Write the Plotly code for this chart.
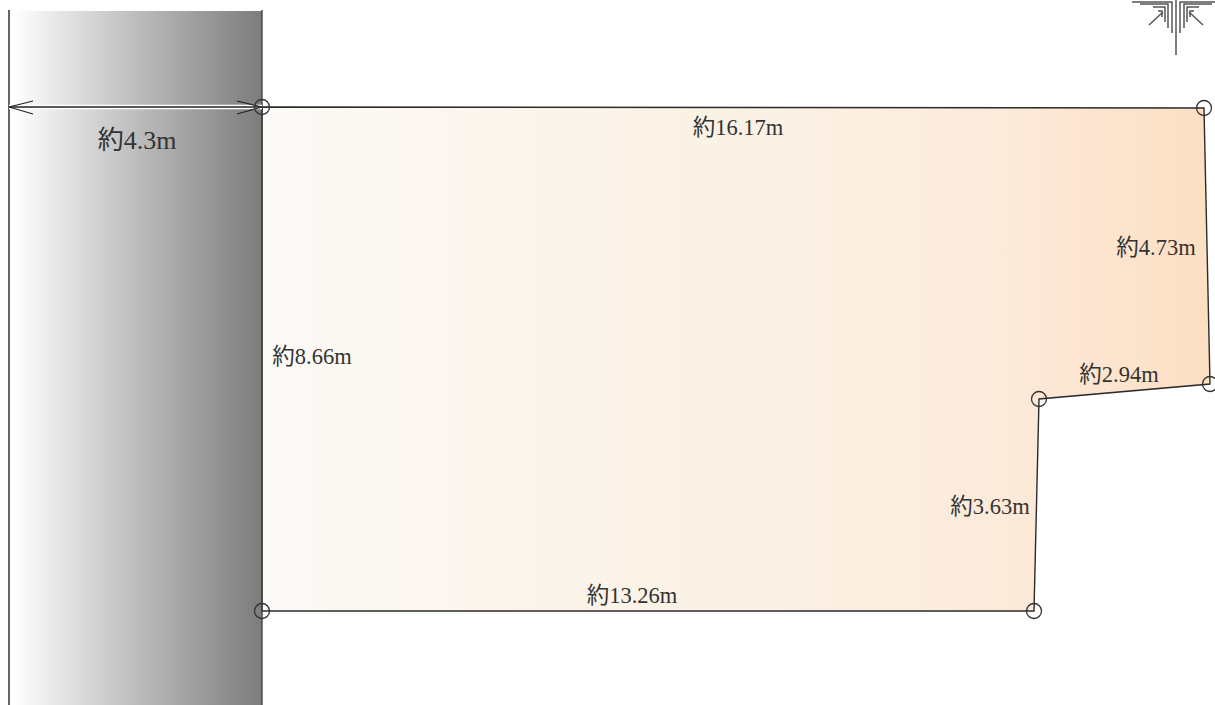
import plotly.graph_objects as go

# Site outline (drawing units)
parcel_x = [262, 1204, 1210, 1039, 1034, 262]
parcel_y = [107, 108, 384, 399, 611, 611]
# Road strip
road_left, road_right, road_top, road_bottom = 9, 262, 11, 705
road_x = [road_left, road_right, road_right, road_left, road_left]
road_y = [road_top, road_top, road_bottom, road_bottom, road_top]
# Width dimension
dim_x = [9, 262]
dim_y = [107, 107]
head_left_x = [33, 9, 33]
head_right_x = [237, 262, 237]
head_y = [101, 107, 114]
# Length labels
labels = ["約4.3m", "約16.17m", "約4.73m", "約8.66m", "約2.94m", "約3.63m", "約13.26m"]
label_x = [137, 738, 1156, 312, 1119, 990, 632]
label_y = [142, 129, 249, 358, 376, 508, 597]
label_size = [26, 22.5, 22.5, 22.5, 22.5, 22.5, 22.5]
# North mark
north_cx = 1176
north_stem_y = [0, 55]
north_offset_h = [44, 36, 23, 18]
north_offset_v = [4, 8, 11, 14]
north_level_y = [2, 4, 7, 11]
north_end_y = [33, 28, 22, 17]
north_diag_dx = [27, 13]
north_diag_y = [25, 12]

fig = go.Figure()
fig.add_trace(go.Scatter(
    x=road_x, y=road_y, mode="lines", line=dict(width=0), fill="toself",
    fillgradient=dict(type="horizontal",
                      colorscale=[[0, "#ffffff"], [0.03, "#fdfdfd"], [0.5, "#bdbdbd"], [1, "#7c7c7c"]])))
fig.add_trace(go.Scatter(
    x=parcel_x + parcel_x[:1], y=parcel_y + parcel_y[:1], mode="lines",
    line=dict(color="#2b2b2b", width=1.4), fill="toself",
    fillgradient=dict(type="horizontal",
                      colorscale=[[0, "#fcfaf7"], [0.3, "#fbf4ea"], [0.55, "#fbf1e4"],
                                  [0.78, "#fceada"], [1, "#fddfc3"]])))
for xs in ([road_left, road_left], [road_right, road_right]):
    fig.add_trace(go.Scatter(x=xs, y=[road_top - 1, road_bottom], mode="lines",
                             line=dict(color="#222222" if xs[0] == road_left else "#444444", width=1.4)))
fig.add_trace(go.Scatter(x=dim_x, y=dim_y, mode="lines", line=dict(color="#ffffff", width=4.5)))
fig.add_trace(go.Scatter(x=dim_x, y=dim_y, mode="lines", line=dict(color="#222222", width=1.3)))
for xs in (head_left_x, head_right_x):
    fig.add_trace(go.Scatter(x=xs, y=head_y, mode="lines", line=dict(color="#222222", width=1.1)))
fig.add_trace(go.Scatter(
    x=parcel_x, y=parcel_y, mode="markers",
    marker=dict(symbol="circle-open", size=15, color="#333333", line=dict(width=1.3)),
    cliponaxis=True))
# North mark
nx, ny = [north_cx, north_cx, None], north_stem_y + [None]
for sign in (-1, 1):
    for oh, ov, ly, ey in zip(north_offset_h, north_offset_v, north_level_y, north_end_y):
        nx += [north_cx + sign * oh, north_cx + sign * ov, north_cx + sign * ov, None]
        ny += [ly, ly, ey, None]
    nx += [north_cx + sign * north_diag_dx[0], north_cx + sign * north_diag_dx[1], None]
    ny += [north_diag_y[0], north_diag_y[1], None]
fig.add_trace(go.Scatter(x=nx, y=ny, mode="lines", line=dict(color="#555555", width=1.5)))
fig.add_trace(go.Scatter(
    x=label_x, y=label_y, text=labels, mode="text", textposition="middle center",
    textfont=dict(family="Liberation Serif, Noto Sans CJK JP", size=label_size, color="#333333")))

fig.update_layout(
    width=1215, height=705, margin=dict(l=0, r=0, t=0, b=0),
    paper_bgcolor="white", plot_bgcolor="white", showlegend=False,
    xaxis=dict(range=[0, 1215], visible=False, fixedrange=True),
    yaxis=dict(range=[705, 0], visible=False, fixedrange=True))
fig.write_html("out.html", config={"displayModeBar": False},
               post_script="document.body.style.margin='0';document.body.style.overflow='hidden';")
